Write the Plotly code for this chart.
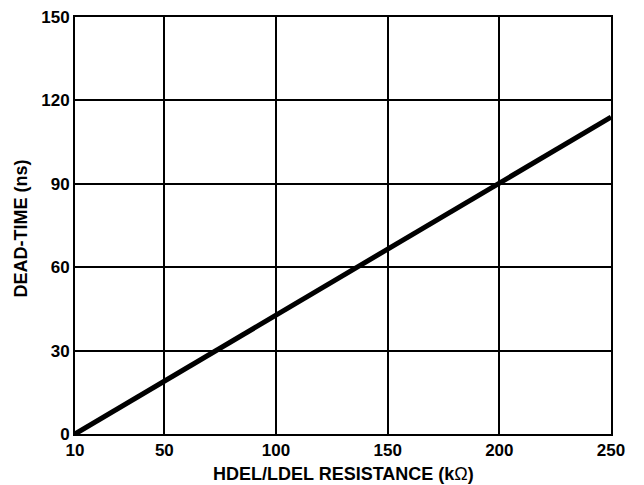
import plotly.graph_objects as go

resistance_kohm = [10, 50, 100, 150, 200, 250]
dead_time_ns = [0, 19, 42.7, 66.5, 90.3, 114]

x_ticks = [10, 50, 100, 150, 200, 250]
y_ticks = [0, 30, 60, 90, 120, 150]

# The page body has an 8px default margin, so the figure is sized to fit the viewport.
W, H = 636, 477
L, T, R, B = 67, 9, 33, 51
pw, ph = W - L - R, H - T - B

fig = go.Figure()
fig.add_trace(go.Scatter(x=resistance_kohm, y=dead_time_ns, mode="lines",
                         line=dict(color="black", width=5), showlegend=False))

font = dict(family="Liberation Sans, Arial", size=17, color="black")
fig.update_layout(
    width=W, height=H,
    margin=dict(l=L, r=R, t=T, b=B),
    paper_bgcolor="white", plot_bgcolor="white",
    font=font,
)
fig.update_xaxes(range=[10, 250], tickvals=x_ticks,
                 ticktext=[f"<b>{v}</b>" for v in x_ticks],
                 showgrid=True, gridcolor="black", gridwidth=2,
                 showline=True, linecolor="black", linewidth=2, mirror=True,
                 zeroline=False, ticks="", ticklen=0, automargin=False,
                 ticklabeloverflow="allow")
fig.update_yaxes(range=[0, 150], tickvals=y_ticks,
                 ticktext=[f"<b>{v}</b>" for v in y_ticks],
                 showgrid=True, gridcolor="black", gridwidth=2,
                 showline=True, linecolor="black", linewidth=2, mirror=True,
                 zeroline=False, ticks="", ticklen=0, automargin=False,
                 ticklabeloverflow="allow")

fig.add_annotation(text="<b>HDEL/LDEL RESISTANCE (k</b>Ω<b>)</b>",
                   xref="paper", yref="paper", x=0.5, y=-39.5 / ph,
                   xanchor="center", yanchor="middle", showarrow=False,
                   font=dict(size=18))
fig.add_annotation(text="<b>DEAD-TIME (ns)</b>", textangle=-90,
                   xref="paper", yref="paper", x=(13 - L) / pw, y=0.5 - 3 / ph,
                   xanchor="center", yanchor="middle", showarrow=False,
                   font=dict(size=18))

fig.write_html("out.html")
